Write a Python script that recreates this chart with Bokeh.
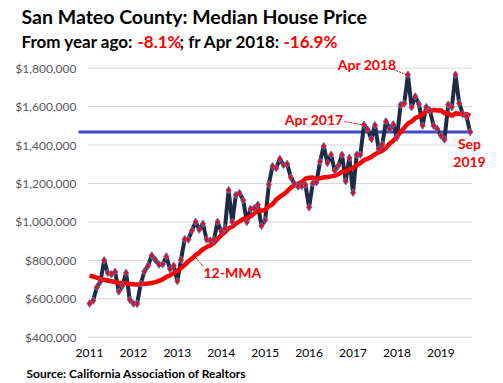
from bokeh.plotting import figure
from bokeh.models import Range1d, Label, FixedTicker
from bokeh.layouts import column
from bokeh.core.properties import value
from bokeh.embed import file_html
from bokeh.resources import INLINE

# ---- data (monthly, Jan 2011 .. Sep 2019), thousands of $ ----
price_k = [575, 590, 660, 690, 800, 735, 728, 740, 638, 668, 735, 595,
           575, 573, 678, 742, 772, 825, 802, 778, 780, 820, 755, 772,
           692, 802, 910, 908, 955, 1000, 960, 990, 908, 903, 908, 1000,
           950, 967, 1165, 1000, 1140, 1150, 1113, 1000, 1068, 1071, 1089, 980,
           1010, 1195, 1290, 1280, 1328, 1297, 1302, 1232, 1198, 1184, 1187, 1193,
           1076, 1201, 1206, 1314, 1394, 1307, 1349, 1267, 1293, 1349, 1212, 1333,
           1152, 1350, 1350, 1505, 1480, 1432, 1503, 1380, 1403, 1523, 1484, 1507,
           1439, 1609, 1616, 1766, 1597, 1653, 1614, 1502, 1598, 1580, 1502, 1484,
           1450, 1429, 1610, 1597, 1766, 1618, 1562, 1549, 1468]
mma_k = [720, 716, 710, 703, 699, 695, 691, 687, 683, 681, 679, 677,
         675, 674, 676, 678, 679, 682, 687, 693, 701, 714, 722, 733,
         745, 760, 776, 794, 810, 826, 841, 858, 869, 878, 891, 911,
         932, 946, 967, 975, 991, 1003, 1016, 1017, 1030, 1044, 1059, 1058,
         1063, 1082, 1092, 1116, 1131, 1143, 1159, 1179, 1189, 1199, 1207, 1225,
         1230, 1231, 1224, 1227, 1232, 1233, 1237, 1240, 1248, 1261, 1263, 1275,
         1281, 1294, 1306, 1322, 1329, 1339, 1352, 1362, 1371, 1385, 1408, 1422,
         1446, 1468, 1490, 1512, 1522, 1540, 1549, 1559, 1576, 1580, 1582, 1580,
         1581, 1566, 1565, 1551, 1565, 1563, 1558, 1562, 1551]
year_labels = ["2011", "2012", "2013", "2014", "2015", "2016", "2017", "2018", "2019"]
y_ticks = [400000, 600000, 800000, 1000000, 1200000, 1400000, 1600000, 1800000]
y_tick_labels = ["$400,000", "$600,000", "$800,000", "$1,000,000", "$1,200,000",
                 "$1,400,000", "$1,600,000", "$1,800,000"]
title_text = "San Mateo County: Median House Price"
subtitle_parts = ["From year ago:", "-8.1%", "; fr Apr 2018:", "-16.9%"]
source_text = "Source: California Association of Realtors"

months = list(range(len(price_k)))
price = [v * 1000 for v in price_k]
mma = [v * 1000 for v in mma_k]
apr2017 = 75
apr2018 = 87

FONT = "Lato"
RED = "#FF0000"

# ---- layout geometry (page pixels; Bokeh page has no body margin) ----
WIDTH = 503
HEAD_H, MAIN_H, FOOT_H = 55, 312, 16
BL, BR, BT, BB = 78, 3, 0, 27
PX_PER_M = 3.66           # pixels per month
X_AT_JAN11 = 89.0         # page x of first month
Y_PER_PX = 1.4e6 / 269.0  # dollars per pixel
Y_AT_1800 = 67.7          # page y of $1.8M gridline
frame_l, frame_t = BL, HEAD_H + BT
frame_w, frame_h = WIDTH - BL - BR, MAIN_H - BT - BB
x0 = (frame_l - X_AT_JAN11) / PX_PER_M
x1 = x0 + frame_w / PX_PER_M
y_top = 1.8e6 + (Y_AT_1800 - frame_t) * Y_PER_PX
y_bot = y_top - frame_h * Y_PER_PX


def dx(px):
    return (px - X_AT_JAN11) / PX_PER_M


def dy(py):
    return 1.8e6 - (py - Y_AT_1800) * Y_PER_PX


def no_align(f):
    if "frame_align" in f.properties():
        f.frame_align = False


def blank(h):
    f = figure(width=WIDTH, height=h, output_backend="svg", toolbar_location=None,
               x_range=Range1d(0, WIDTH), y_range=Range1d(h, 0),
               x_axis_type=None, y_axis_type=None, min_border=0)
    f.outline_line_color = None
    f.xgrid.visible = False
    f.ygrid.visible = False
    no_align(f)
    return f


# ---- header ----
head = blank(HEAD_H)
head.text(x=[21], y=[15.5], text=[title_text], text_font=value(FONT),
          text_font_style="bold", text_font_size="19.5px", text_color="#000000",
          text_baseline="middle", text_align="left")
head.text(x=[21, 137, 179, 283], y=[41] * 4, text=subtitle_parts, text_font=value(FONT),
          text_font_style="bold", text_font_size="17px",
          text_color=["#000000", RED, "#000000", RED],
          text_align="left", text_baseline="middle")

# ---- footer ----
foot = blank(FOOT_H)
foot.text(x=[26], y=[6], text=[source_text], text_font=value(FONT),
          text_font_style="bold", text_font_size="12px", text_color="#000000",
          text_baseline="middle", text_align="left")

# ---- main chart ----
p = figure(width=WIDTH, height=MAIN_H, output_backend="svg", toolbar_location=None,
           x_range=Range1d(x0, x1), y_range=Range1d(y_bot, y_top),
           min_border_left=BL, min_border_right=BR, min_border_top=BT, min_border_bottom=BB)
p.outline_line_color = None
p.xgrid.visible = False
p.ygrid.visible = False
no_align(p)

p.xaxis.ticker = FixedTicker(ticks=[12 * k for k in range(len(year_labels))])
p.xaxis.major_label_overrides = {12 * k: lab for k, lab in enumerate(year_labels)}
p.yaxis.ticker = FixedTicker(ticks=y_ticks)
p.yaxis.major_label_overrides = {t: lab for t, lab in zip(y_ticks, y_tick_labels)}
for ax in (p.xaxis[0], p.yaxis[0]):
    ax.axis_line_color = None
    ax.major_tick_line_color = None
    ax.minor_tick_line_color = None
    ax.major_tick_out = 0
    ax.major_tick_in = 0
    ax.minor_tick_out = 0
    ax.major_label_text_font = FONT
    ax.major_label_text_font_size = "12px"
p.xaxis.major_label_text_color = "#000000"
p.xaxis.major_label_standoff = 8
p.yaxis.major_label_text_color = "#595959"
p.yaxis.major_label_standoff = 2

# gridlines
p.segment(x0=[dx(87)] * len(y_ticks), y0=y_ticks, x1=[dx(472)] * len(y_ticks), y1=y_ticks,
          line_color="#D9D9D9", line_width=1)
# reference line at latest value
p.segment(x0=[dx(77)], y0=[price[-1]], x1=[dx(472)], y1=[price[-1]],
          line_color="#4146C6", line_width=3)
# price line
p.line(months, price, line_color="#1F2A44", line_width=4)
# 12-MMA
p.line(months, mma, line_color=RED, line_width=4.5)
# markers
p.scatter(months, price, marker="diamond", size=7.5, fill_color=RED,
          line_color="#4A72C4", line_width=1)

# leader lines
p.segment(x0=[dx(393), dx(344), dx(195)],
          y0=[dy(69), dy(121), dy(257)],
          x1=[apr2018 - 0.4, apr2017 - 0.3, dx(203)],
          y1=[price[apr2018], price[apr2017], dy(266)],
          line_color="#C00000", line_width=1, line_dash="2 1")


def lab(x, y, text, align="left"):
    p.add_layout(Label(x=x, y=y, text=text, text_font=FONT, text_font_size="14px",
                       text_font_style="bold", text_color=RED, text_align=align,
                       text_baseline="middle"))


lab(dx(396), dy(64), "Apr 2018", align="right")
lab(dx(343), dy(119), "Apr 2017", align="right")
lab(dx(203), dy(272), "12-MMA")
lab(dx(469), dy(143), "Sep", align="center")
lab(dx(469), dy(161), "2019", align="center")

layout = column(head, p, foot, spacing=0)
open("out.html", "w").write(file_html(layout, INLINE))
